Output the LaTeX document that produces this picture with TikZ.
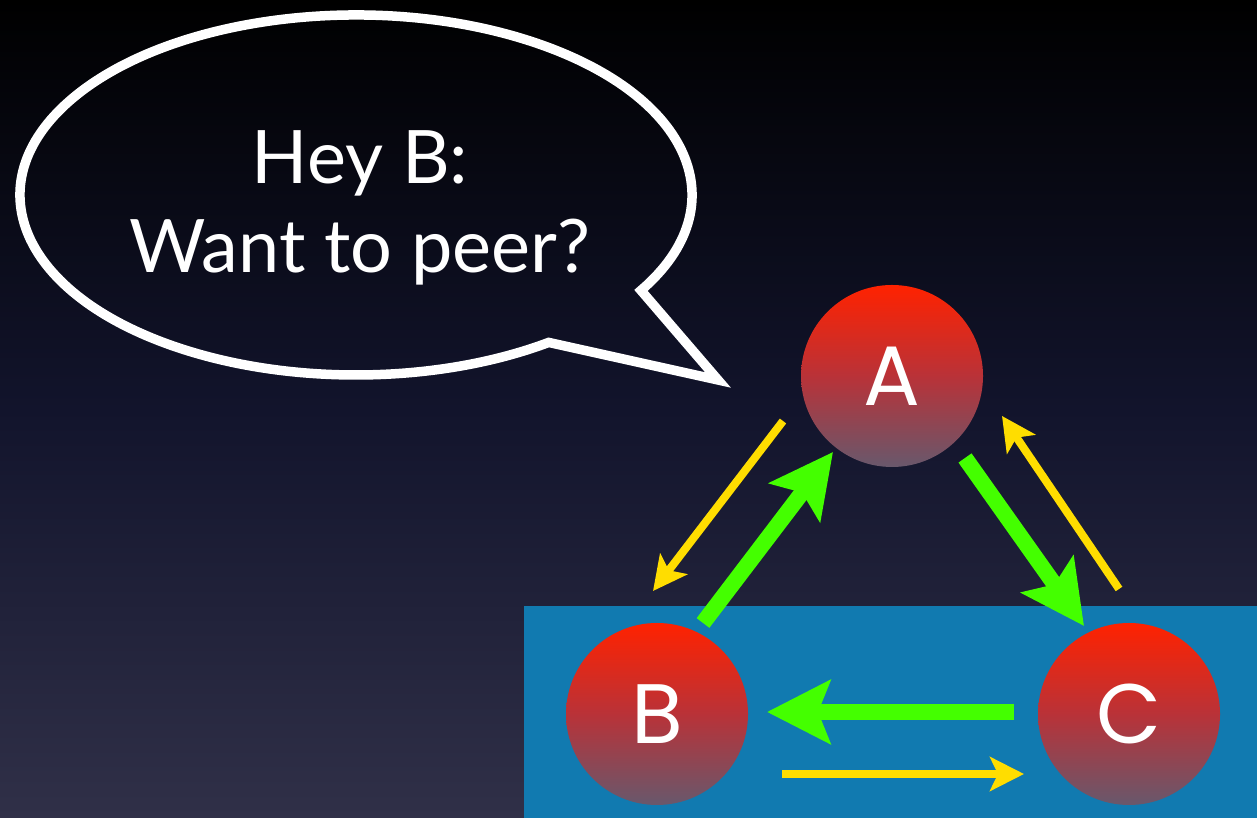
\documentclass[tikz,border=0pt]{standalone}
\usepackage{fontspec}
\setmainfont{Lato}
\newfontfamily\peerfont{Poppins}
\usetikzlibrary{positioning, arrows.meta}

\definecolor{skymid}{RGB}{18,20,44}
\definecolor{skybot}{RGB}{48,48,72}
\definecolor{boxblue}{RGB}{17,122,176}
\definecolor{peertop}{RGB}{255,34,0}
\definecolor{peermid}{RGB}{185,50,56}
\definecolor{peerbot}{RGB}{104,88,108}
\definecolor{linkgreen}{RGB}{68,255,0}
\definecolor{linkyellow}{RGB}{255,221,0}

\begin{document}
\begin{tikzpicture}[
    peer/.style={circle, minimum size=1.82cm, inner sep=0pt, outer sep=0pt, top color=peertop, bottom color=peerbot, middle color=peermid, text=white, font=\peerfont\fontsize{24}{24}\selectfont},
    offer/.style={-{Stealth[length=3.4mm, width=3.4mm, inset=0.8mm]}, linkyellow, line width=0.8mm},
    accept/.style={-{Stealth[length=6.3mm, width=6.3mm, inset=1.2mm]}, linkgreen, line width=1.6mm}]
    \useasboundingbox (0,0) rectangle (12.57,8.18);
    \shade[top color=black, bottom color=skybot, middle color=skymid] (0,0) rectangle (12.57,8.18);
    \fill[boxblue] (5.24,0) rectangle (12.57,2.12);

    \coordinate (talk) at (3.56,6.23);
    \coordinate (tip) at (7.18,4.38);
    \draw[white, line width=0.95mm, line join=miter] (talk) ++(-32:3.36 and 1.8) arc[start angle=-32, end angle=305, x radius=3.36, y radius=1.8] -- (tip) -- cycle;
    \node[text=white, align=center, font=\fontsize{21}{25.5}\selectfont] (msg) at (3.6,6.1) {Hey B:\\Want to peer?};

    \node[peer] (A) at (8.92,4.42) {A};
    \node[peer] (B) [on grid, below left=3.38cm and 2.35cm of A] {B};
    \node[peer] (C) [on grid, right=4.72cm of B] {C};

    \draw[offer] ([shift={(-1.09,-0.45)}]A.center) -- ([shift={(-0.04,1.23)}]B.center);
    \draw[accept] ([shift={(0.46,0.91)}]B.center) -- ([shift={(-0.59,-0.76)}]A.center);
    \draw[accept] ([shift={(0.73,-0.82)}]A.center) -- ([shift={(-0.45,0.88)}]C.center);
    \draw[offer] ([shift={(-0.10,1.25)}]C.center) -- ([shift={(1.10,-0.40)}]A.center);
    \draw[accept] ([shift={(-1.15,0.02)}]C.center) -- ([shift={(1.10,0.02)}]B.center);
    \draw[offer] ([shift={(1.25,-0.60)}]B.center) -- ([shift={(-1.05,-0.60)}]C.center);
\end{tikzpicture}
\end{document}
